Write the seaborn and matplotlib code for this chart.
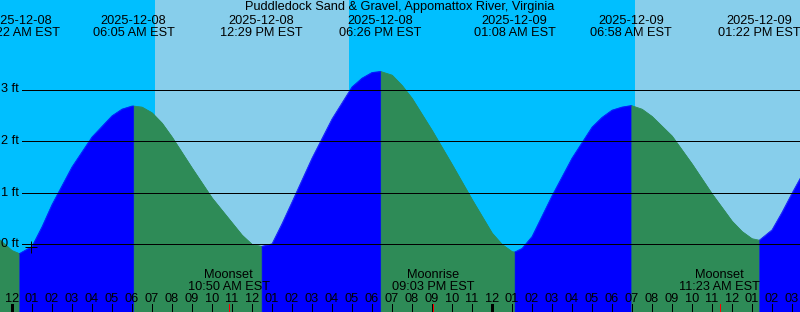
import matplotlib
matplotlib.use("Agg")
import matplotlib.pyplot as plt
import matplotlib.transforms as mtransforms
import numpy as np
import pandas as pd
import seaborn as sns

# ---------------- data ----------------
title = "Puddledock Sand & Gravel, Appomattox River, Virginia"

# tide curve samples: hours since 2025-12-08 00:00 EST, height in ft
tide_hours = [-1, -0.5, 0, 0.37, 1, 1.5, 2, 3, 4, 5, 5.5, 6, 6.083, 6.5, 7, 7.5,
              8, 9, 10, 11, 11.5, 12, 12.483, 13, 13.5, 14, 15, 16, 17, 17.5, 18,
              18.433, 19, 19.5, 20, 21, 22, 23, 24, 24.5, 25, 25.133, 25.5, 26,
              27, 28, 29, 29.5, 30, 30.5, 30.967, 31.5, 32, 33, 34, 35, 36, 36.5,
              37, 37.367, 38, 38.5, 39, 40]
tide_heights = [0.22, 0.05, -0.12, -0.18, -0.04, 0.34, 0.77, 1.50, 2.08, 2.49,
                2.62, 2.68, 2.68, 2.66, 2.55, 2.35, 2.08, 1.48, 0.90, 0.42, 0.18,
                0.00, -0.04, 0.01, 0.40, 0.82, 1.67, 2.43, 3.05, 3.22, 3.33, 3.35,
                3.28, 3.08, 2.83, 2.21, 1.55, 0.87, 0.22, 0.00, -0.14, -0.15, -0.08,
                0.15, 0.94, 1.67, 2.27, 2.46, 2.60, 2.66, 2.69, 2.62, 2.48, 2.10,
                1.56, 0.98, 0.45, 0.25, 0.11, 0.08, 0.28, 0.62, 0.99, 1.70]

# high / low tide events
event_hours = [0.37, 6.083, 12.483, 18.433, 25.133, 30.967, 37.367]
event_dates = ["2025-12-08", "2025-12-08", "2025-12-08", "2025-12-08",
               "2025-12-09", "2025-12-09", "2025-12-09"]
event_times = ["12:22 AM EST", "06:05 AM EST", "12:29 PM EST", "06:26 PM EST",
               "01:08 AM EST", "06:58 AM EST", "01:22 PM EST"]

# daylight spans (sunrise, sunset), hours
sunrise_hours = [7.15, 31.15]
sunset_hours = [16.85, 40.85]

# moon events
moon_hours = [10.833, 21.05, 35.383]
moon_names = ["Moonset", "Moonrise", "Moonset"]
moon_times = ["10:50 AM EST", "09:03 PM EST", "11:23 AM EST"]

# current position marker
now_hour = [0.93]
now_height = [-0.05]

# axis
level_ticks = [0, 1, 2, 3]
level_labels = ["0 ft", "1 ft", "2 ft", "3 ft"]
hour_ticks = list(range(0, 40))
hour_labels = ["%02d" % (12 if h % 12 == 0 else h % 12) for h in hour_ticks]
midnight_hours = [0, 24]

# ---------------- style ----------------
NIGHT = "#00BFFF"
DAY = "#87CEEB"
RISE = "#0000FF"
FALL = "#2E8B57"

sns.set_theme(style="white")
plt.rcParams["font.family"] = ["Liberation Sans", "DejaVu Sans"]
plt.rcParams["text.color"] = "black"

W, H = 800, 312
fig = plt.figure(figsize=(W / 100, H / 100), dpi=100, facecolor=NIGHT)
ax = fig.add_axes([0, 0, 1, 1])
ax.set_axis_off()

X0 = 12.0      # pixel of midnight
PXH = 20.0     # pixels per hour
Y0 = 244.3     # pixel of 0 ft
PXF = 51.6     # pixels per foot
xlo, xhi = (0 - X0) / PXH, (W - X0) / PXH
ybot, ytop = (Y0 - H) / PXF, Y0 / PXF

def py(p):
    return 1 - p / H

bt = mtransforms.blended_transform_factory(ax.transData, ax.transAxes)
bl = mtransforms.blended_transform_factory(ax.transAxes, ax.transData)

# night / daylight background
ax.axvspan(xlo - 1, xhi + 1, color=NIGHT, lw=0, zorder=0)
for a, b in zip(sunrise_hours, sunset_hours):
    ax.axvspan(a, b, color=DAY, lw=0, zorder=0.5)

# tide fill, split at extremes
t = np.array(tide_hours)
h = np.array(tide_heights)
bounds = [t[0]] + event_hours + [t[-1]]
rows = []
for i in range(len(bounds) - 1):
    m = (t >= bounds[i]) & (t <= bounds[i + 1])
    tt, hh = t[m], h[m]
    rising = hh[-1] > hh[0]
    col = RISE if rising else FALL
    ax.fill_between(tt, hh, ybot, color=col, lw=0.5, edgecolor=col, zorder=1)
    for a, b in zip(tt, hh):
        rows.append({"t": a, "h": b, "limb": i, "phase": "rise" if rising else "fall"})
df = pd.DataFrame(rows)
sns.lineplot(data=df, x="t", y="h", hue="phase", units="limb", estimator=None,
             palette={"rise": RISE, "fall": FALL}, legend=False, lw=0.5, ax=ax,
             zorder=2)
ax.set_xlim(xlo, xhi)
ax.set_ylim(ybot, ytop)
ax.set_axis_off()

fs = 9.2
PX = 0.72  # one pixel in points
# level lines and labels
for lv, lab in zip(level_ticks, level_labels):
    ax.axhline(lv, xmin=22 / W, xmax=1, color="black", lw=PX, zorder=3,
               antialiased=False)
    ax.text(19 / W, lv, lab, transform=bl, ha="right", va="center",
            fontsize=fs, color="black", zorder=4)

# now marker
ax.plot(now_hour, now_height, marker="+", ms=8, mew=PX, color="black",
        ls="none", zorder=4)

# title
ax.text(0.5, py(10.3), title, transform=ax.transAxes, ha="center", va="baseline",
        fontsize=fs, color="black", zorder=5)

# tide event labels
for eh, d, tm in zip(event_hours, event_dates, event_times):
    ax.text(eh, py(24.5), d, transform=bt, ha="center", va="baseline", fontsize=fs,
            color="black", zorder=5)
    ax.text(eh, py(36.3), tm, transform=bt, ha="center", va="baseline", fontsize=fs,
            color="black", zorder=5)

# moon labels
for mh, nm, tm in zip(moon_hours, moon_names, moon_times):
    ax.text(mh, py(277.7), nm, transform=bt, ha="center", va="baseline", fontsize=fs,
            color="black", zorder=5)
    ax.text(mh, py(289.5), tm, transform=bt, ha="center", va="baseline", fontsize=fs,
            color="black", zorder=5)

# hour ticks and labels
for hr, lab in zip(hour_ticks, hour_labels):
    ax.text(hr, py(301.7), lab, transform=bt, ha="center", va="baseline", fontsize=fs,
            color="black", zorder=5)
    if hr in midnight_hours:
        ax.vlines(hr, py(H), py(304), transform=bt, color="black", lw=3 * PX, zorder=5,
                  antialiased=False)
    else:
        ax.vlines(hr, py(H), py(304), transform=bt, color="black", lw=PX, zorder=5,
                  antialiased=False)
for mh in moon_hours:
    ax.vlines(mh, py(H), py(304), transform=bt, color="red", lw=PX, zorder=6,
              antialiased=False)

fig.savefig("out.png", dpi=100, facecolor=NIGHT)
